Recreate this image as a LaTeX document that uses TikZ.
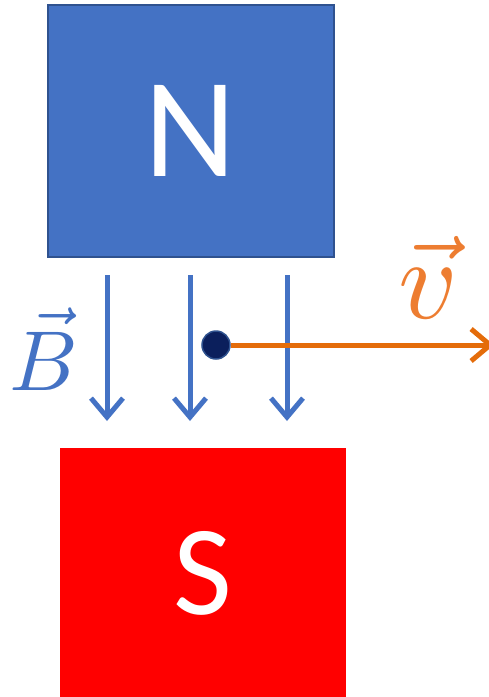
\documentclass[tikz,border=0pt]{standalone}
\usepackage{graphicx}
\usepackage{fontspec}
\setsansfont{Carlito}
\usetikzlibrary{arrows.meta}
\definecolor{magblue}{HTML}{4472C4}
\definecolor{magedge}{HTML}{2F528F}
\definecolor{velo}{HTML}{E46C0A}
\definecolor{velolabel}{HTML}{ED7D31}
\definecolor{charge}{HTML}{0B1F5C}
\tikzset{
  fieldline/.style={magblue, line width=5pt, -{Straight Barb[length=19pt,width=32pt,line width=5pt]}},
  pole/.style={minimum width=286pt, minimum height=252pt, inner sep=0pt, text=white, font=\sffamily}
}
\begin{document}
\begin{tikzpicture}[x=1pt, y=-1pt]
  \useasboundingbox (0,0) rectangle (488,697);
  \node[pole, fill=magblue, draw=magedge, line width=2pt, font=\sffamily\fontsize{142}{150}\selectfont] (north) at (190.5,130.5) {N};
  \node[pole, fill=red, minimum height=250pt, font=\sffamily\fontsize{128}{140}\selectfont] (south) at (203,573) {S};
  % field lines between the poles
  \foreach \x [count=\i] in {107,190,287} {
    \coordinate (top\i) at (\x,275);
    \coordinate (bot\i) at (\x,421);
    \draw[fieldline] (top\i) -- (bot\i);
  }
  \node[text=magblue] (bfield) at (44,349) {\scalebox{8.5}{$\vec{B}$}};
  % moving charge
  \node[circle, fill=charge, draw=magedge, line width=1.5pt, minimum size=28pt, inner sep=0pt] (q) at (216,345) {};
  \coordinate (edge) at (494,345);
  \draw[velo, line width=5pt, -{Straight Barb[length=19pt,width=32pt,line width=5pt]}] (q) -- (edge);
  \node[text=velolabel] (vlabel) at (428,277) {\scalebox{11.5}{$\vec{v}$}};
\end{tikzpicture}
\end{document}
